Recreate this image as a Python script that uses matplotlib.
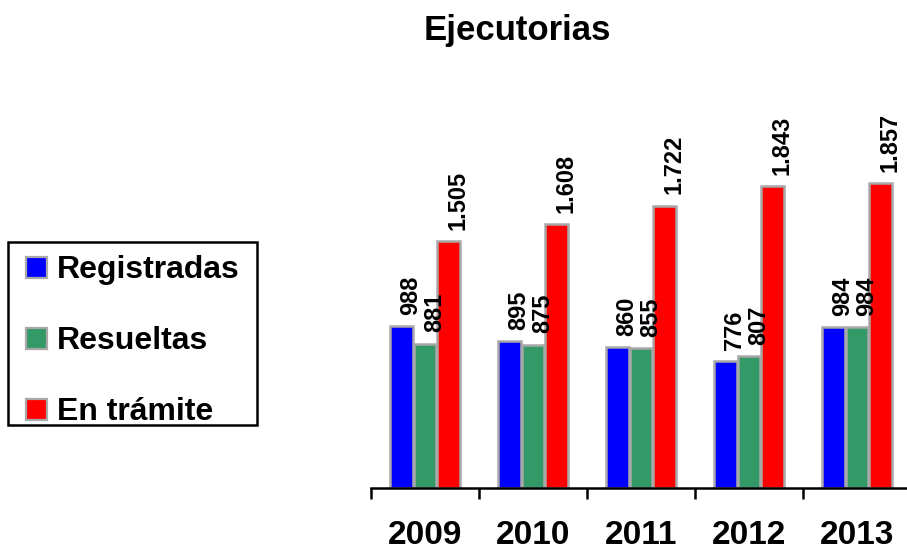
import matplotlib
matplotlib.use("Agg")
import matplotlib.pyplot as plt
from matplotlib.patches import Rectangle
from matplotlib.transforms import blended_transform_factory

plt.rcParams['font.family'] = ['Liberation Sans', 'DejaVu Sans']
plt.rcParams['font.weight'] = 'bold'

years = ["2009", "2010", "2011", "2012", "2013"]
series_names = ["Registradas", "Resueltas", "En trámite"]
registradas = [988, 895, 860, 776, 984]
resueltas = [881, 875, 855, 807, 984]
en_tramite = [1505, 1608, 1722, 1843, 1857]
colors = ["#0000FF", "#339966", "#FF0000"]
edge = "#a8a8a8"

def fmt(v):
    return f"{v:,}".replace(",", ".")

W, H = 907, 553
def fx(px):
    return px / W
def fy(py):
    return 1 - py / H

fig = plt.figure(figsize=(W / 100, H / 100), dpi=100)
ax = fig.add_axes([371 / W, 65 / H, 540 / W, 388 / H])

offsets = [-0.22, 0.0, 0.22]
width = 0.21
centers = [i + 0.5 for i in range(len(years))]
for s, (vals, col, name) in enumerate(zip([registradas, resueltas, en_tramite], colors, series_names)):
    xs = [c + offsets[s] for c in centers]
    ax.bar(xs, vals, width=width, color=col, edgecolor=edge, linewidth=1.8, label=name, zorder=2)
    for x, v in zip(xs, vals):
        ax.annotate(fmt(v), (x, v), xytext=(7, 8), textcoords="offset points",
                    rotation=90, ha="center", va="bottom", fontsize=17, fontweight="bold", zorder=3)

ax.set_xlim(0, 5)
ax.set_ylim(0, 2366)
for sp in ["top", "right", "left"]:
    ax.spines[sp].set_visible(False)
ax.spines["bottom"].set_linewidth(1.8)
ax.set_yticks([])
ax.set_xticks(range(6))
ax.set_xticklabels([])
ax.tick_params(axis="x", which="major", direction="out", length=8, width=1.8)

trans = blended_transform_factory(ax.transData, fig.transFigure)
for c, yr in zip(centers, years):
    ax.text(c, fy(544), yr, transform=trans, ha="center", va="baseline",
            fontsize=24, fontweight="bold", clip_on=False)

fig.text(fx(517), fy(40), "Ejecutorias", ha="center", va="baseline", fontsize=25, fontweight="bold")

# legend box
fig.patches.append(Rectangle((fx(8), fy(425)), fx(257) - fx(8), fy(242) - fy(425),
                             transform=fig.transFigure, facecolor="white", edgecolor="black",
                             linewidth=1.8, zorder=1))
baselines = [278, 349, 420]
for name, col, b in zip(series_names, colors, baselines):
    fig.patches.append(Rectangle((fx(26), fy(b)), fx(21), 21 / H, transform=fig.transFigure,
                                 facecolor=col, edgecolor=edge, linewidth=1.6, zorder=2))
    fig.text(fx(57), fy(b), name, ha="left", va="baseline", fontsize=23, fontweight="bold", zorder=3)

fig.savefig("out.png", dpi=100)
